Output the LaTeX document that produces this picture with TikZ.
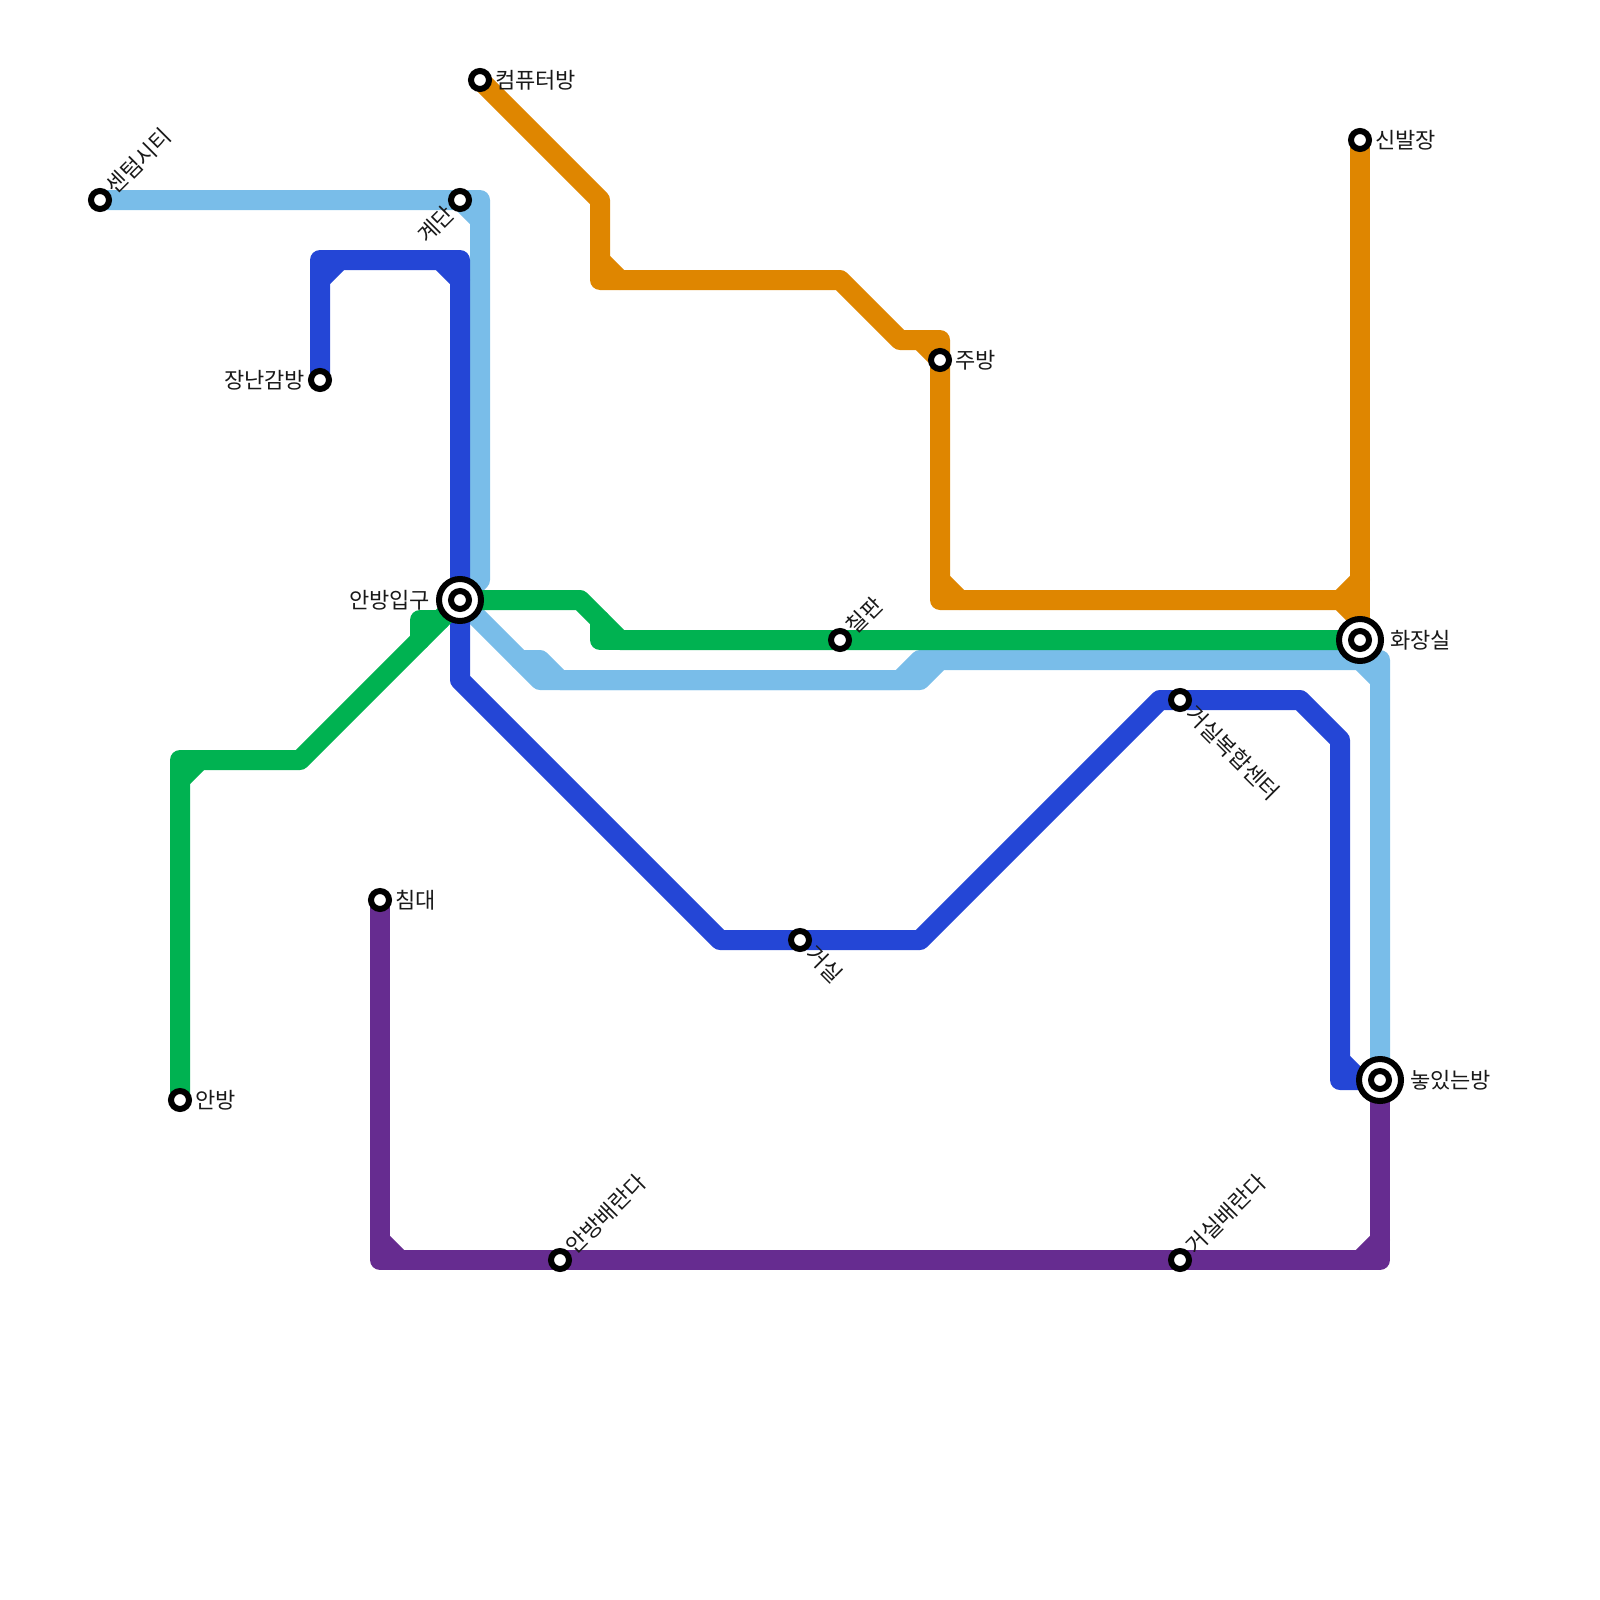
\documentclass[tikz,border=0pt]{standalone}
\usepackage{fontspec}
\setmainfont{Noto Sans CJK KR}
\pgfdeclarelayer{lines}
\pgfsetlayers{lines,main}
\definecolor{lightb}{HTML}{79BDE9}
\definecolor{darkb}{HTML}{2446D6}
\definecolor{greenl}{HTML}{00B251}
\definecolor{orangel}{HTML}{DF8600}
\definecolor{purplel}{HTML}{662C90}
\tikzset{
  metro/.style={line width=20pt,line join=round,line cap=round},
  stn/.style={circle,draw=black,fill=white,line width=6pt,minimum size=18pt,inner sep=0pt,outer sep=0pt},
  hub/.style={circle,draw=black,fill=white,line width=6pt,minimum size=42pt,inner sep=0pt,outer sep=0pt,
    path picture={\draw[black,fill=white,line width=6pt] (path picture bounding box.center) circle[radius=9pt];}},
  lab/.style={font=\fontsize{22pt}{26pt}\selectfont,text=black!90,inner sep=0pt,outer sep=0pt},
}
\begin{document}
\begin{tikzpicture}[x=1pt,y=-1pt]
\useasboundingbox (0,0) rectangle (1600,1600);
% stations
\node[stn] (senteom) at (100,200) {};
\node[stn] (gyedan) at (460,200) {};
\node[stn] (computer) at (480,80) {};
\node[stn] (shoes) at (1360,140) {};
\node[stn] (kitchen) at (940,360) {};
\node[stn] (toy) at (320,380) {};
\node[hub] (anbangin) at (460,600) {};
\node[stn] (board) at (840,640) {};
\node[hub] (toilet) at (1360,640) {};
\node[stn] (complex) at (1180,700) {};
\node[stn] (bed) at (380,900) {};
\node[stn] (living) at (800,940) {};
\node[hub] (play) at (1380,1080) {};
\node[stn] (anbang) at (180,1100) {};
\node[stn] (anver) at (560,1260) {};
\node[stn] (livver) at (1180,1260) {};
% labels
\node[lab,anchor=west] (l1) at (495,80) {컴퓨터방};
\node[lab,anchor=west] (l2) at (1375,140) {신발장};
\node[lab,anchor=west] (l3) at (955,360) {주방};
\node[lab,anchor=west] (l4) at (1390,640) {화장실};
\node[lab,anchor=west] (l5) at (1410,1080) {놓있는방};
\node[lab,anchor=west] (l6) at (395,900) {침대};
\node[lab,anchor=west] (l7) at (195,1100) {안방};
\node[lab,anchor=east] (l8) at (430,600) {안방입구};
\node[lab,anchor=east] (l9) at (305,380) {장난감방};
\node[lab,anchor=west,rotate=45] (l10) at (110,190) {센텀시티};
\node[lab,anchor=east,rotate=45] (l11) at (450,210) {계단};
\node[lab,anchor=west,rotate=45] (l12) at (850,630) {칠판};
\node[lab,anchor=west,rotate=-45] (l13) at (810,950) {거실};
\node[lab,anchor=west,rotate=-45] (l14) at (1190,710) {거실복합센터};
\node[lab,anchor=west,rotate=45] (l15) at (570,1250) {안방배란다};
\node[lab,anchor=west,rotate=45] (l16) at (1190,1250) {거실배란다};
\begin{pgfonlayer}{lines}
% light blue
\draw[metro,lightb] (senteom.center) -- (480,200) -- (480,580) -- (anbangin.center) -- (540,680) -- (920,680) -- (940,660) -- (1380,660) -- (play.center);
\draw[metro,lightb] (gyedan.center) -- (480,220);
\draw[metro,lightb] (520,660) -- (540,660) -- (560,680) -- (900,680) -- (920,660) -- (940,660);
\draw[metro,lightb] (1360,660) -- (1380,680);
% dark blue
\draw[metro,darkb] (toy.center) -- (320,260) -- (460,260) -- (460,680) -- (720,940) -- (living.center) -- (920,940) -- (1160,700) -- (complex.center) -- (1300,700) -- (1340,740) -- (1340,1080) -- (play.center);
\draw[metro,darkb] (320,280) -- (340,260);
\draw[metro,darkb] (440,260) -- (460,280);
\draw[metro,darkb] (1340,1060) -- (1360,1080);
% green
\draw[metro,greenl] (anbang.center) -- (180,760) -- (300,760) -- (anbangin.center);
\draw[metro,greenl] (180,780) -- (200,760);
\draw[metro,greenl] (420,640) -- (420,620) -- (440,620);
\draw[metro,greenl] (anbangin.center) -- (580,600) -- (620,640) -- (board.center) -- (toilet.center);
\draw[metro,greenl] (600,620) -- (600,640) -- (620,640);
% orange
\draw[metro,orangel] (computer.center) -- (600,200) -- (600,280) -- (840,280) -- (900,340) -- (940,340) -- (kitchen.center) -- (940,600) -- (1340,600) -- (1360,620);
\draw[metro,orangel] (shoes.center) -- (toilet.center);
\draw[metro,orangel] (600,260) -- (620,280);
\draw[metro,orangel] (920,340) -- (940,360);
\draw[metro,orangel] (940,580) -- (960,600);
\draw[metro,orangel] (1340,600) -- (1360,580);
% purple
\draw[metro,purplel] (bed.center) -- (380,1260) -- (anver.center) -- (livver.center) -- (1380,1260) -- (play.center);
\draw[metro,purplel] (380,1240) -- (400,1260);
\draw[metro,purplel] (1360,1260) -- (1380,1240);
\end{pgfonlayer}
\end{tikzpicture}
\end{document}
